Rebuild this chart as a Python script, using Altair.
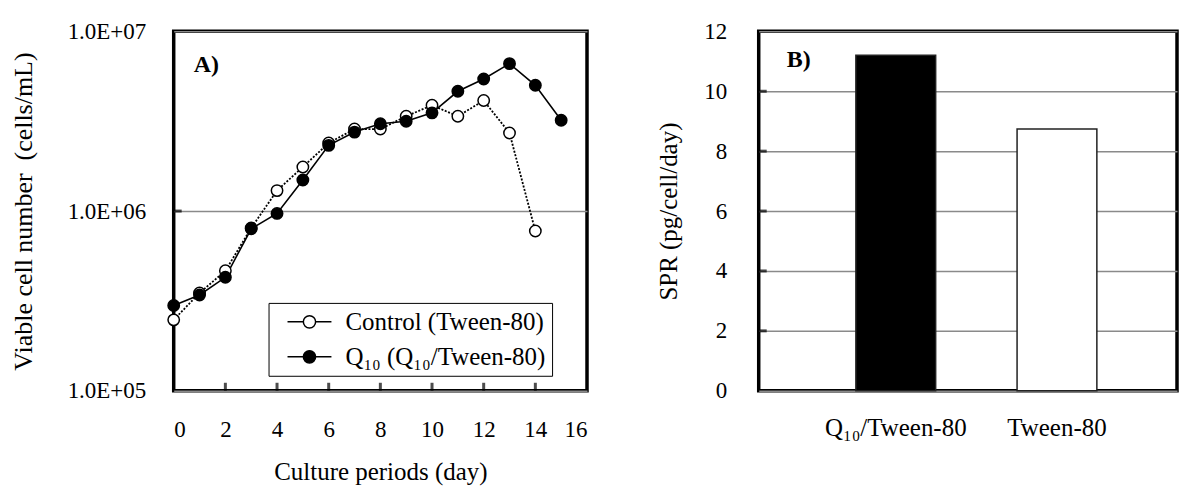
import altair as alt
import pandas as pd

# ---------------- data ----------------
series_names = ["Control (Tween-80)", "Q₁₀ (Q₁₀/Tween-80)"]
days_control = [0, 1, 2, 3, 4, 5, 6, 7, 8, 9, 10, 11, 12, 13, 14]
control_values = [2.48e5, 3.50e5, 4.65e5, 8.05e5, 1.30e6, 1.76e6, 2.39e6, 2.86e6,
                  2.86e6, 3.37e6, 3.88e6, 3.37e6, 4.12e6, 2.72e6, 7.74e5]
days_q10 = [0, 1, 2, 3, 4, 5, 6, 7, 8, 9, 10, 11, 12, 13, 14, 15]
q10_values = [2.98e5, 3.41e5, 4.28e5, 7.97e5, 9.70e5, 1.49e6, 2.32e6, 2.75e6,
              3.06e6, 3.16e6, 3.52e6, 4.64e6, 5.43e6, 6.61e6, 5.01e6, 3.20e6]
x_ticks = [0, 2, 4, 6, 8, 10, 12, 14, 16]
inner_x_ticks = [2, 4, 6, 8, 10, 12, 14]
y_ticks = [1e5, 1e6, 1e7]

bar_categories = ["Q₁₀/Tween-80", "Tween-80"]
bar_values = [11.2, 8.74]
bar_ticks = [0, 2, 4, 6, 8, 10, 12]
inner_bar_ticks = [2, 4, 6, 8, 10]

FONT = "Liberation Serif"
FS = 25      # titles, legend, category labels
NFS = 23     # numeric tick labels

df_a = pd.concat([
    pd.DataFrame({"series": series_names[0], "day": days_control, "value": control_values}),
    pd.DataFrame({"series": series_names[1], "day": days_q10, "value": q10_values}),
], ignore_index=True)

xs = alt.Scale(domain=[0, 16], nice=False, zero=False)
ys = alt.Scale(type="log", domain=[1e5, 1e7], nice=False)

x_enc = alt.X("day:Q", scale=xs,
              axis=alt.Axis(values=x_ticks, title="Culture periods (day)", grid=False,
                            ticks=False, labelFontSize=NFS, labelPadding=28, titlePadding=18))
y_enc = alt.Y("value:Q", scale=ys,
              axis=alt.Axis(values=y_ticks, title="Viable cell number\u00a0 (cells/mL)",
                            grid=True, gridColor="#8a8a8a", gridWidth=1.5, ticks=False,
                            labelFontSize=NFS, labelPadding=28, titlePadding=31,
                            titleFontSize=26,
                            labelExpr="'1.0E+0' + round(log(datum.value) / LN10)"))

base_a = alt.Chart(df_a)

line_ctrl = base_a.transform_filter(alt.datum.series == series_names[0]).mark_line(
    color="black", strokeWidth=1.8, strokeDash=[2, 1.6]).encode(x=x_enc, y=y_enc)
line_q10 = base_a.transform_filter(alt.datum.series == series_names[1]).mark_line(
    color="black", strokeWidth=1.6).encode(x=x_enc, y=y_enc)

legend_path = "M-1,0H-0.28M0.28,0H1M-0.28,0A0.28,0.28 0 1,0 0.28,0A0.28,0.28 0 1,0 -0.28,0Z"
points = base_a.mark_point(shape="circle", size=130, filled=True, stroke="black",
                           strokeWidth=1.5, opacity=1).encode(
    x=x_enc, y=y_enc,
    fill=alt.Fill("series:N",
                  scale=alt.Scale(domain=series_names, range=["white", "black"]),
                  legend=alt.Legend(title=None, orient="none", legendX=95, legendY=272,
                                    symbolType=legend_path, symbolSize=1936,
                                    symbolStrokeColor="black", symbolStrokeWidth=1.5,
                                    labelFontSize=FS, labelFont=FONT, labelColor="black",
                                    labelLimit=500, labelOffset=13, rowPadding=9,
                                    clipHeight=26, padding=6, symbolOffset=12,
                                    strokeColor="black", fillColor="white")))

ticks_a_x = alt.Chart(pd.DataFrame({"day": inner_x_ticks})).mark_tick(
    orient="vertical", size=8, thickness=3, color="black", yOffset=-4).encode(
    x=alt.X("day:Q", scale=xs), y=alt.datum(1e5))
ticks_a_y = alt.Chart(pd.DataFrame({"value": [1e6]})).mark_tick(
    orient="horizontal", size=8, thickness=3, color="black", xOffset=4).encode(
    y=alt.Y("value:Q", scale=ys), x=alt.datum(0))

label_a = alt.Chart(pd.DataFrame({"t": ["A)"]})).mark_text(
    align="left", baseline="middle", fontSize=24, fontWeight="bold", font=FONT,
    color="black").encode(text="t:N", x=alt.value(20), y=alt.value(34))

panel_a = alt.layer(line_ctrl, line_q10, points, ticks_a_x, ticks_a_y, label_a).properties(
    width=414, height=360)

# ---------------- panel B ----------------
df_b = pd.DataFrame({"cat": bar_categories, "spr": bar_values})
bars = alt.Chart(df_b).mark_bar(stroke="#222", strokeWidth=1.5).encode(
    x=alt.X("cat:N", sort=bar_categories,
            scale=alt.Scale(paddingInner=0.505, paddingOuter=0.55, align=0.548),
            axis=alt.Axis(title=None, labelAngle=0, ticks=False, labelPadding=25,
                          labelFontSize=FS)),
    y=alt.Y("spr:Q", scale=alt.Scale(domain=[0, 12], nice=False),
            axis=alt.Axis(values=bar_ticks, title="SPR (pg/cell/day)", grid=True,
                          gridColor="#8a8a8a", gridWidth=1.5, ticks=False,
                          labelFontSize=NFS, labelPadding=32, titlePadding=22)),
    fill=alt.Fill("cat:N", scale=alt.Scale(domain=bar_categories, range=["black", "white"]),
                  legend=None),
)
ticks_b = alt.Chart(pd.DataFrame({"spr": inner_bar_ticks})).mark_tick(
    orient="horizontal", size=8, thickness=3, color="black", xOffset=4).encode(
    y=alt.Y("spr:Q", scale=alt.Scale(domain=[0, 12], nice=False)), x=alt.value(0))
label_b = alt.Chart(pd.DataFrame({"t": ["B)"]})).mark_text(
    align="left", baseline="middle", fontSize=24, fontWeight="bold", font=FONT,
    color="black").encode(text="t:N", x=alt.value(28), y=alt.value(29))

panel_b = alt.layer(bars, ticks_b, label_b).properties(width=419, height=360)

chart = alt.hconcat(panel_a, panel_b, spacing=66).resolve_scale(
    x="independent", y="independent", fill="independent"
).configure(
    font=FONT,
    padding={"left": 8, "top": 18, "right": 2, "bottom": 2},
    background="white",
).configure_view(
    stroke="black", strokeWidth=3.5,
).configure_axis(
    labelFont=FONT, titleFont=FONT, labelFontSize=FS, titleFontSize=FS,
    titleFontWeight="normal", labelColor="black", titleColor="black", domain=False,
)

chart.save("out.html", embed_options={"renderer": "svg", "actions": False})
